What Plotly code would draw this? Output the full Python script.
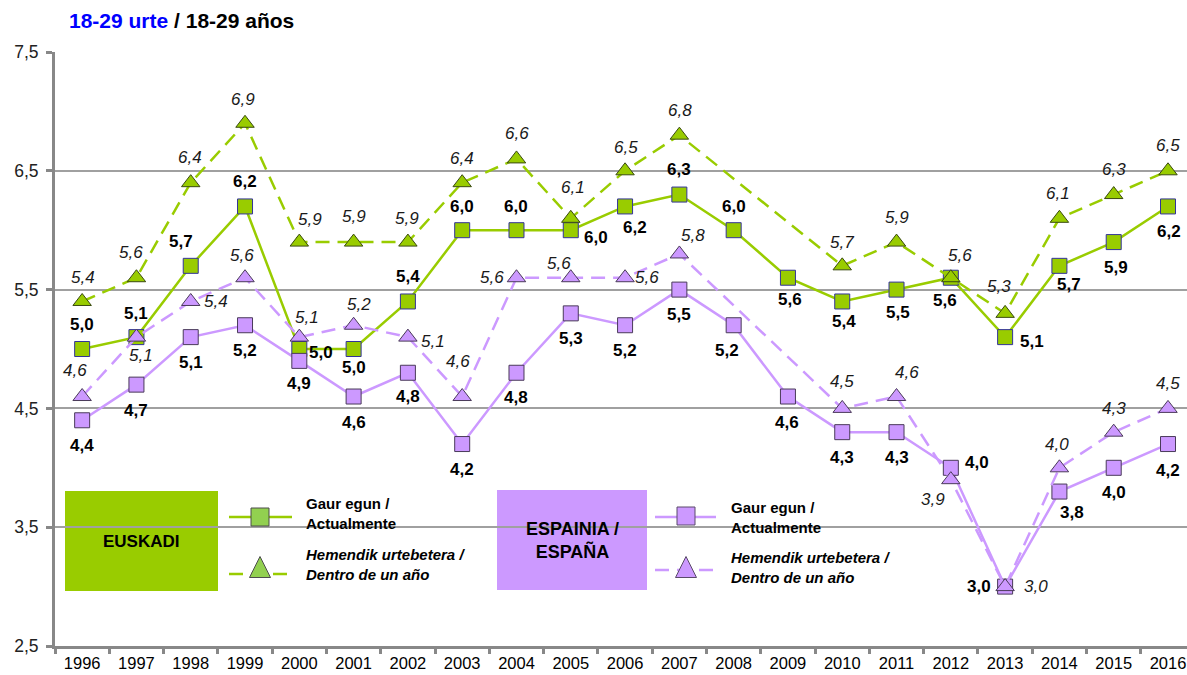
import plotly.graph_objects as go

# ---------------- data ----------------
years = [str(y) for y in range(1996, 2017)]
eus_now = [5.0, 5.1, 5.7, 6.2, 5.0, 5.0, 5.4, 6.0, 6.0, 6.0, 6.2, 6.3, 6.0, 5.6, 5.4, 5.5, 5.6, 5.1, 5.7, 5.9, 6.2]
eus_next = [5.4, 5.6, 6.4, 6.9, 5.9, 5.9, 5.9, 6.4, 6.6, 6.1, 6.5, 6.8, None, None, 5.7, 5.9, 5.6, 5.3, 6.1, 6.3, 6.5]
esp_now = [4.4, 4.7, 5.1, 5.2, 4.9, 4.6, 4.8, 4.2, 4.8, 5.3, 5.2, 5.5, 5.2, 4.6, 4.3, 4.3, 4.0, 3.0, 3.8, 4.0, 4.2]
esp_next = [4.6, 5.1, 5.4, 5.6, 5.1, 5.2, 5.1, 4.6, 5.6, 5.6, 5.6, 5.8, None, None, 4.5, 4.6, 3.9, 3.0, 4.0, 4.3, 4.5]
y_ticks = [2.5, 3.5, 4.5, 5.5, 6.5, 7.5]

# label offsets (dx, dy) in screen px, dy positive = down
eus_now_off = [(0, -25), (0, -24), (-10, -24), (0, -25), (22, 3), (0, 18), (0, -25), (0, -24), (0, -24), (25, 7),
               (10, 21), (0, -25), (0, -24), (2, 22), (2, 20), (1, 23), (-6, 23), (27, 4), (10, 19), (2, 25), (1, 25)]
eus_next_off = [(1, -24), (-5, -25), (-1, -25), (-2, -24), (11, -23), (0, -26), (-1, -24), (0, -24), (1, -25), (2, -31),
                (1, -23), (1, -25), None, None, (0, -23), (0, -25), (9, -22), (-6, -27), (-1, -25), (0, -25), (0, -25)]
esp_now_off = [(0, 25), (0, 26), (0, 25), (0, 25), (0, 23), (0, 26), (0, 24), (0, 25), (0, 25), (0, 25),
               (0, 25), (0, 25), (-7, 25), (-1, 26), (0, 25), (0, 25), (26, -5), (-26, 0), (13, 21), (0, 25), (0, 26)]
esp_next_off = [(-7, -26), (5, 18), (25, 0), (-3, -22), (8, -20), (5, -21), (25, 4), (-4, -35), (-24, 0), (-12, -14),
                (22, 0), (14, -18), None, None, (0, -27), (10, -24), (-18, 20), (31, 0), (-2, -23), (0, -24), (0, -25)]

GREEN = "#99CC00"
PURPLE = "#CC99FF"
FONT = "Liberation Sans, Arial, sans-serif"
DASH = "14px,8px"

fig = go.Figure()


def fmt(v):
    return f"{v:.1f}".replace(".", ",")


def add_series(vals, color, symbol, dash, border, size):
    fig.add_trace(go.Scatter(
        x=years, y=vals, mode="lines+markers", connectgaps=True,
        line=dict(color=color, width=2.5, dash=dash),
        marker=dict(symbol=symbol, size=size, color=color, line=dict(color=border, width=1)),
        showlegend=False, hoverinfo="skip"))


add_series(eus_now, GREEN, "square", "solid", "#333399", 15)
add_series(eus_next, GREEN, "triangle-up", DASH, "#3a4a10", 16)
add_series(esp_now, PURPLE, "square", "solid", "#4a3a5a", 15)
add_series(esp_next, PURPLE, "triangle-up", DASH, "#4a3a5a", 16)

annotations = []


def add_labels(vals, offs, bold):
    for i, (v, off) in enumerate(zip(vals, offs)):
        if v is None:
            continue
        t = fmt(v)
        t = f"<b>{t}</b>" if bold else f"<i>{t}</i>"
        annotations.append(dict(
            x=i, y=v, xref="x", yref="y", text=t, showarrow=False,
            xshift=off[0], yshift=-off[1], xanchor="center", yanchor="middle",
            font=dict(family=FONT, size=17, color="#000000" if bold else "#1a1a1a")))


add_labels(eus_now, eus_now_off, True)
add_labels(eus_next, eus_next_off, False)
add_labels(esp_now, esp_now_off, True)
add_labels(esp_next, esp_next_off, False)

# ---------------- layout helpers (pixel -> paper) ----------------
X0, W, Y0, H = 55, 1132, 52, 594


def px(x):
    return (x - X0) / W


def py(y):
    return (Y0 + H - y) / H


shapes = []
# white legend backgrounds covering grid
shapes.append(dict(type="rect", xref="paper", yref="paper", x0=px(65), x1=px(489), y0=py(600), y1=py(485),
                   fillcolor="white", line=dict(width=0), layer="between"))
shapes.append(dict(type="rect", xref="paper", yref="paper", x0=px(497), x1=px(915), y0=py(600), y1=py(485),
                   fillcolor="white", line=dict(width=0), layer="between"))
# coloured boxes
shapes.append(dict(type="rect", xref="paper", yref="paper", x0=px(65), x1=px(218), y0=py(591), y1=py(491),
                   fillcolor=GREEN, line=dict(width=0), layer="between"))
shapes.append(dict(type="rect", xref="paper", yref="paper", x0=px(497), x1=px(647), y0=py(590), y1=py(490),
                   fillcolor=PURPLE, line=dict(width=0), layer="between"))


def legend_sample(x0, x1, y, color, dash):
    shapes.append(dict(type="line", xref="paper", yref="paper", x0=px(x0), x1=px(x1), y0=py(y), y1=py(y),
                       line=dict(color=color, width=2.5, dash=dash), layer="above"))


def legend_square(cx, cy, s, fill, border):
    shapes.append(dict(type="rect", xref="paper", yref="paper", x0=px(cx - s / 2), x1=px(cx + s / 2),
                       y0=py(cy + s / 2), y1=py(cy - s / 2), fillcolor=fill, line=dict(color=border, width=1),
                       layer="above"))


def legend_triangle(cx, cy, w, h, fill, border):
    path = (f"M {px(cx - w / 2)} {py(cy + h / 2)} L {px(cx + w / 2)} {py(cy + h / 2)} "
            f"L {px(cx)} {py(cy - h / 2)} Z")
    shapes.append(dict(type="path", xref="paper", yref="paper", path=path, fillcolor=fill,
                       line=dict(color=border, width=1), layer="above"))


legend_sample(229, 292, 517, GREEN, "solid")
legend_square(260, 517, 18, "#92D050", "#4d4d4d")
legend_sample(229, 292, 574, GREEN, DASH)
legend_triangle(260, 567, 21, 21, "#92D050", "#4d4d4d")

legend_sample(655, 716, 517, PURPLE, "solid")
legend_square(686, 516, 18, PURPLE, "#5a4a6a")
legend_sample(655, 716, 570, PURPLE, DASH)
legend_triangle(686, 567, 21, 21, PURPLE, "#5a4a6a")


def ltext(x, y, t, size=15):
    annotations.append(dict(x=px(x), y=py(y), xref="paper", yref="paper", text=t, showarrow=False,
                            xanchor="left", yanchor="middle", align="left",
                            font=dict(family=FONT, size=size, color="#000000")))


ltext(304, 513, "<b>Gaur egun /<br>Actualmente</b>")
ltext(304, 564, "<b><i>Hemendik urtebetera /<br>Dentro de un año</i></b>")
ltext(729, 517, "<b>Gaur egun /<br>Actualmente</b>")
ltext(729, 567, "<b><i>Hemendik urtebetera /<br>Dentro de un año</i></b>")

annotations.append(dict(x=px(141), y=py(541), xref="paper", yref="paper", text="<b>EUSKADI</b>",
                        showarrow=False, xanchor="center", yanchor="middle",
                        font=dict(family=FONT, size=17, color="#000000")))
annotations.append(dict(x=px(572), y=py(540), xref="paper", yref="paper", text="<b>ESPAINIA /<br>ESPAÑA</b>",
                        showarrow=False, xanchor="center", yanchor="middle", align="center",
                        font=dict(family=FONT, size=18, color="#000000")))

# title
annotations.append(dict(x=px(67), y=py(20), xref="paper", yref="paper",
                        text="<b><span style='color:#0000FF'>18-29 urte</span> / 18-29 años</b>",
                        showarrow=False, xanchor="left", yanchor="middle",
                        font=dict(family=FONT, size=21, color="#000000")))

fig.update_layout(
    width=1187, height=675,
    margin=dict(l=55, r=0, t=52, b=29),
    paper_bgcolor="white", plot_bgcolor="white",
    showlegend=False,
    shapes=shapes, annotations=annotations,
    xaxis=dict(type="category", range=[-0.5, 20.35], showgrid=False, showline=True, linecolor="#888888",
               linewidth=3, ticks="outside", tickson="boundaries", ticklen=5, tickwidth=3, tickcolor="#888888",
               tickfont=dict(family=FONT, size=16.5, color="#000000"), zeroline=False),
    yaxis=dict(range=[2.5, 7.5], tickvals=y_ticks, ticktext=[fmt(v) for v in y_ticks], showgrid=True,
               gridcolor="#A0A0A0", gridwidth=1.5, showline=True, linecolor="#888888", linewidth=3,
               ticks="outside", ticklen=6, tickwidth=3, tickcolor="#888888", zeroline=False,
               tickfont=dict(family=FONT, size=17.5, color="#222222"), ticklabelstandoff=4),
)

fig.write_html("out.html", config={"displayModeBar": False},
               post_script="document.body.style.margin='0';document.body.style.overflow='hidden';")
